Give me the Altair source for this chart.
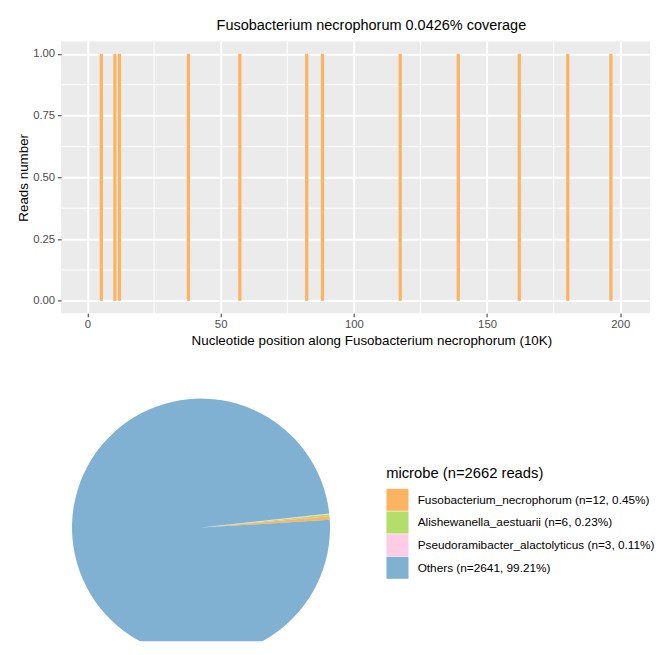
import math
import altair as alt
import pandas as pd

FONT = "Liberation Sans"

# ---- top chart data (positions in 10K units) ----
positions = [5.2, 10.3, 12.0, 37.9, 57.2, 82.3, 88.2, 117.4, 139.2, 162.1, 180.3, 196.5]
reads = [1, 1, 1, 1, 1, 1, 1, 1, 1, 1, 1, 1]
x_major = [0, 50, 100, 150, 200]
x_minor = [25, 75, 125, 175]
y_major = [0.0, 0.25, 0.5, 0.75, 1.0]
y_minor = [0.125, 0.375, 0.625, 0.875]

# ---- pie data ----
microbes = ["Fusobacterium_necrophorum", "Alishewanella_aestuarii",
            "Pseudoramibacter_alactolyticus", "Others"]
counts = [12, 6, 3, 2641]
slice_order = [2, 1, 0, 3]
colors = ["#FDB462", "#B3DE69", "#FCCDE5", "#80B1D3"]

total = sum(counts)
labels = [f"{m} (n={c}, {100 * c / total:.2f}%)" for m, c in zip(microbes, counts)]

xscale = alt.Scale(domain=[-9.87, 211.2], nice=False, zero=False, padding=0)
yscale = alt.Scale(domain=[-0.05, 1.05], nice=False, zero=False, padding=0)

xaxis = alt.Axis(values=x_major, title="Nucleotide position along Fusobacterium necrophorum (10K)",
                 grid=True, gridColor="white", gridWidth=2, domain=False,
                 tickColor="#333333", tickSize=3.7, tickWidth=1,
                 labelColor="#4D4D4D", labelFontSize=11.5, labelFont=FONT, labelPadding=2,
                 titleFont=FONT, titleFontSize=13.6, titleFontWeight="normal",
                 titleColor="black", titlePadding=3.5, titleX=315, titleAlign="center")
yaxis = alt.Axis(values=y_major, format=".2f", title="Reads number",
                 grid=True, gridColor="white", gridWidth=2, domain=False,
                 tickColor="#333333", tickSize=3.7, tickWidth=1,
                 labelColor="#4D4D4D", labelFontSize=11.5, labelFont=FONT, labelPadding=2.9,
                 titleFont=FONT, titleFontSize=13.6, titleFontWeight="normal",
                 titleColor="black", titlePadding=2)

bars_df = pd.DataFrame({"pos": positions, "reads": reads})
xminor_df = pd.DataFrame({"v": x_minor})
yminor_df = pd.DataFrame({"v": y_minor})

xminor = alt.Chart(xminor_df).mark_rule(color="white", strokeWidth=1).encode(
    x=alt.X("v:Q", scale=xscale, axis=xaxis)
)
yminor = alt.Chart(yminor_df).mark_rule(color="white", strokeWidth=1).encode(
    y=alt.Y("v:Q", scale=yscale, axis=yaxis)
)
bars = alt.Chart(bars_df).mark_bar(size=3.3, color="#FDB462").encode(
    x=alt.X("pos:Q", scale=xscale, axis=xaxis),
    y=alt.Y("reads:Q", scale=yscale, axis=yaxis),
)

top = alt.layer(xminor, yminor, bars).properties(
    width=598, height=276,
    view=alt.ViewBackground(fill="#EBEBEB", stroke=None),
    title=alt.TitleParams("Fusobacterium necrophorum 0.0426% coverage", font=FONT, fontSize=14.7,
                          fontWeight="normal", color="black", anchor="middle", frame="group",
                          offset=8.5, dx=16),
)

start = math.radians(83.7)
pie_df = pd.DataFrame({"microbe": labels, "count": counts, "ord": slice_order})
pie = alt.Chart(pie_df).mark_arc(outerRadius=131, clip=True, yOffset=9.7).encode(
    theta=alt.Theta("count:Q", stack=True, scale=alt.Scale(range=[start, start + 2 * math.pi])),
    color=alt.Color("microbe:N", scale=alt.Scale(domain=labels, range=colors),
                    legend=alt.Legend(title="microbe (n=2662 reads)", orient="none",
                                      legendX=330, legendY=431,
                                      titleFont=FONT, titleFontSize=15, titleFontWeight="normal",
                                      titleColor="black", titlePadding=8,
                                      labelFont=FONT, labelFontSize=12, labelColor="black",
                                      labelOffset=9, symbolType="square", symbolSize=500,
                                      symbolStrokeWidth=0, rowPadding=0, labelLimit=400)),
    order=alt.Order("ord:Q"),
).properties(width=284, height=250, view=alt.ViewBackground(stroke=None))

chart = alt.vconcat(top, pie, spacing=48).properties(
    padding={"left": 9, "top": 5, "right": 0, "bottom": 0}
).configure_view(stroke=None)

chart.save("out.html", embed_options={"renderer": "svg", "actions": False})
